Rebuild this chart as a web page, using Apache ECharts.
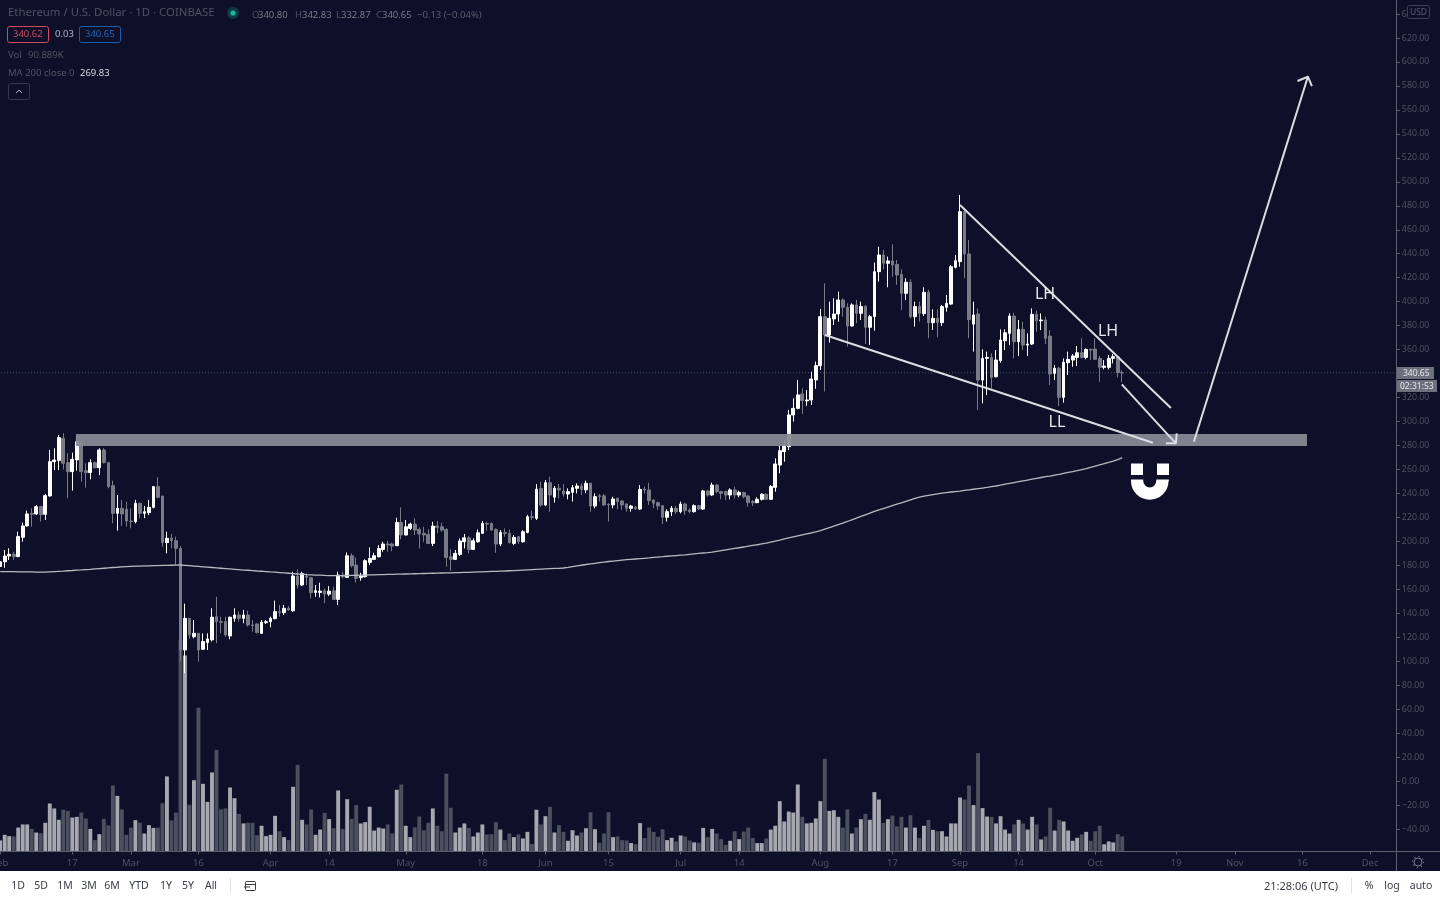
<!DOCTYPE html>
<html>
<head>
<meta charset="utf-8">
<style>html,body{margin:0;padding:0;background:#fff}#c{width:1440px;height:900px}</style>
<script src="https://cdn.jsdelivr.net/npm/echarts@6/dist/echarts.min.js"></script>
</head>
<body>
<div id="c"></div>
<script>
const opens = [179,183,187.8,189.2,187.3,203.4,212.9,223.4,222.9,229,
222.6,237.9,266.5,267.4,286,265.7,258.2,268,283.2,259,
257.4,265.7,261.5,276.3,265.7,246.5,223.4,227.6,226.8,217,
216.5,231.8,223.4,224,228.4,245.7,237.9,199,202.6,200.6,
194.2,109.4,135.8,120.5,123.3,110,115.5,117.8,137.2,133,
133,121.1,135.8,138.6,135.8,138.6,130.3,131.1,123.3,132.2,
133,135.5,141.4,140.5,144.1,142.1,171.1,163.6,171.1,169.7,
157.4,157.4,158.8,156,158.8,151.6,171.9,170,188,180.2,
169.7,170.5,182.5,185,187.2,193.3,197.8,197.8,196.4,215.8,
205.3,210.8,214.4,210,206.7,205.8,198.3,212.8,212.2,210,
187.2,185,189.1,199.7,203,193.3,199.7,206.7,215,215,
210,197.8,207.5,206.7,198.3,203.9,199.7,207.5,220.6,219.2,
244.2,230.3,249,236.8,244.3,242.1,239.5,240.9,244.3,246.2,
243,248.4,229.5,238,238,230.9,230.4,235.9,233.7,231.2,
227.6,228.4,227,243.7,242.9,234.5,232.3,229.8,220.1,224.8,
227.6,224.8,231.2,226.2,224.8,229.8,227,242.1,238.7,247,
241.5,241.5,238.7,242.9,238.7,240.7,237.9,233.2,232.3,235.1,
239.3,235.1,245.1,263.7,274.9,279,305.5,311,323,317.2,
318,334.7,346.6,387.5,372.2,385.6,389.7,401.4,395.3,379.7,
397.3,390.3,395.9,378.6,387.5,425,439,432,434,431,
422.8,407,416.2,387.5,395.9,390,407.8,382.5,386.1,382.5,
395.3,398,428.7,433.4,475.1,439.8,381.3,389.7,334.6,352.7,
353.5,337.4,350.8,367.4,373.6,388,366.6,376.9,363.8,364.7,
389.4,384.1,384.7,371.3,340.2,344.4,320.2,349.1,351.3,353.5,
357.4,353.5,360.2,360.5,352.7,345.2,345.2,352.7,354,340.80];
const closes = [183,187.8,189.2,187.3,204,212.9,222.9,222.6,229,222.3,
238.2,266.5,267.9,286.6,265.1,258.2,268.5,283.2,258.2,257.4,
265.7,261.5,276.3,265.7,245.7,223.4,227.6,222.9,217,216.5,
231.8,223.4,224.8,228.4,245.7,236.8,199,202.6,200.6,194.2,
109.4,135.8,122,123.3,109.4,116.4,118.6,136.7,133,132.5,
121.9,136.7,138.6,135.8,138.6,130.3,129.7,123.9,132.5,133,
135.8,141.4,140.6,144.1,142.7,171.1,163.6,173.3,170,157.2,
158.8,158.5,156,158.5,151.6,171.9,170.5,188,179.7,169.1,
171.1,183.9,185.8,188,194.1,197.8,196.9,196.1,215.8,205.3,
212.2,214.4,209.4,206.1,205.3,198.3,212.8,211.7,209.4,186.6,
185,190,200.3,203,193.3,200.5,207.2,215,214.4,209.4,
197.8,207.5,206.7,198.9,203.3,199.7,208,220.6,220,243.6,
230.3,249,238.7,244.3,242.9,239.5,241.5,244.8,246.2,243.4,
248.4,229.5,237.3,237.3,230.4,230.4,235.4,233.2,230.4,227.6,
229.5,227.3,243.4,242.9,234,231.8,229.5,220.1,224.8,227.6,
224.8,231.2,225.6,224.8,229.8,227,242.1,238.7,247,241.5,
240.1,238.7,242.9,238.7,240.9,237.3,232.3,232.3,235.1,239.3,
235.1,245.7,264.6,275.7,279.9,305.5,311,322.2,317.4,318,
335.5,346.6,387.5,372.2,386.1,389.7,401.4,395.3,379.7,397.3,
390.3,395.9,378.6,387.5,425,439,432,434,430.6,422.3,
407,416.2,387.5,395.9,390.3,407.8,382.5,386.1,382.5,395.9,
398.6,429.2,434.2,475.1,439.8,385,388.9,334.6,352.7,353.5,
336.8,351.3,368,374.1,388,366.6,376.9,363.8,364.7,389.4,
384.1,384.7,369.4,339.6,344.4,320.2,349.4,351.9,354.7,357.4,
353.5,360.2,359.7,351.9,345.2,346.3,352.7,354.1,340.8,340.65];
const highs = [185,192.8,194.2,191.4,208.1,215.6,225.7,227.6,230.4,229.8,
239.6,276.3,277.7,288.8,290.2,273.5,274,287.4,284.6,265.1,
268.5,266.5,277.7,277.7,266.5,250.7,238.7,234.6,233.2,227.6,
234.6,232.3,229.6,234.6,246.2,253.5,237.9,208.1,206.2,204,
196,148,136,134.4,123.3,123.3,123.3,144.2,153.9,137.2,
137.2,137.2,144.2,141.4,142.8,142.2,134.4,131.7,134.4,134.4,
137.2,150.6,147,146.9,146,174.7,176.6,174.7,173.3,170.5,
163.6,165.5,160.8,162.7,162.2,174.7,174.7,190.8,190,186.6,
173.8,185,195,190.5,196.9,199.7,200.5,198.9,219.7,228.4,
217.8,215.6,219.2,211.7,212.2,210,216.4,217,215.6,210.8,
193.3,192.8,202.5,206.1,204.4,202.5,210,217,216.4,215.8,
210.8,209.4,210.8,210,205.3,204.4,209.4,222,225.6,247.8,
249.8,251.2,254,246.2,247.9,247.9,244.3,247,248.4,248.4,
250.7,249,240.1,239.5,239.5,231.8,237.3,236.8,234.5,231.8,
230.4,229.5,247,245.7,249,235.1,233.2,230.4,226.8,229.5,
229.5,233.2,232.3,227.6,230.9,230.4,242.9,242.9,249,247.9,
242.3,242.3,244.3,245.7,242.3,241.5,238.7,234.5,236.8,240.1,
240.1,247,269.3,280.4,284.6,309.7,319.4,334.7,327.7,326.3,
341.6,350,393.9,415.3,400,402.8,408.4,402.8,398.6,398.6,
401.4,400,397.3,388.9,432.6,445.9,443.1,437.6,447.9,434.8,
427,419.5,418.7,400,400,412,409.8,393.6,393.6,397.3,
405.6,430.6,439,489,477.9,451.5,400,394.4,360.2,358.3,
356.9,359.7,376.9,376.9,390.2,390.8,384.7,383.3,373.6,394.4,
392.5,390.2,387.5,376.3,347.1,345.7,352.7,358.3,356.3,363,
369.4,361,361,369.4,354.7,351.3,355.5,356.3,354.7,342.83];
const lows = [177.5,178,184.5,184.5,186.7,199.8,212.3,212.3,222,216.5,
217.9,237.3,259.6,259.6,260.1,235.9,242.3,259,249.9,244.8,
251.8,261,255.4,265.1,244.3,215.1,209,212.9,212.3,210.9,
215.1,219.3,219.3,222,227.6,235.9,195.6,190,194.2,180.3,
100,90,119,119.1,99.7,109.4,109.4,116.4,115,123.3,
120.5,118.3,133,133,131.7,128.9,124.7,123.3,122.8,131.1,
128.3,135,137.2,138.5,142.1,141.3,160.8,162.7,163.6,152.4,
153.8,153.3,148.3,154.4,151,146.9,169.1,169.4,178.3,165.5,
167.2,170,180.2,184.4,186.6,191.4,191.4,191.9,196.1,201.7,
205,209.4,205.3,194.1,199.7,197.8,196.1,206.7,208,178.9,
175.5,184.4,187.8,194.1,190,192.8,198.9,206.1,208.9,208.9,
190.5,196.1,203.9,198.3,196.9,197.8,198.9,206.7,217.8,217.8,
228.9,229.5,224.8,232.3,235.9,237.3,235.1,233.2,240.1,238.7,
240.1,224.8,227.6,233.2,229.5,216.5,227.6,226.8,226.2,224.8,
224.8,226.2,226.2,240.1,230.4,227.6,226.2,214.5,216.5,221.2,
222.9,223.4,222,223.4,224,226.2,226.2,237.3,237.9,240.1,
235.1,234.5,235.1,235.9,236.8,235.9,229,229.5,231.8,234,
234.5,234.5,241.5,256.8,266.5,276.3,299.9,310.2,306.3,313,
313.8,327.2,343,325,365.8,380.6,383.3,387.5,362.5,379.2,
382,384.7,364.7,363.9,375.8,416.7,427,412,420.9,414,
393,401.4,386.1,379.2,383.3,388,369.4,376.4,370.3,379.7,
391.7,397.3,427.8,429.2,419.5,369.4,358.3,309.6,315.2,322.1,
327.7,336.8,349.1,359.7,363.8,352.7,354.7,359.7,354.7,363.8,
374.9,376.3,364.7,330.5,334.6,312.9,315.7,338.8,345.7,346.3,
352.7,351.9,351.3,351.3,333.2,343.5,343.5,348.5,336.8,332.87];
// volume, thousands of ETH
const volumes = [67,101,93,91,145,164,164,137,115,111,
174,291,261,192,253,246,206,210,236,200,
137,69,105,198,158,400,337,255,101,145,
190,174,109,160,143,145,293,455,188,236,
1280,1188,283,432,871,410,301,479,616,255,
261,388,323,228,170,174,174,99,156,93,
101,216,123,87,69,392,525,192,164,255,
101,133,234,196,141,370,137,317,198,281,
170,178,271,127,145,139,164,109,374,406,
156,87,147,212,129,174,261,156,123,471,
265,115,145,170,143,91,115,164,103,105,
178,133,69,109,87,103,79,119,46,253,
164,214,271,115,160,119,65,129,97,115,
141,238,135,53,109,238,87,91,69,67,
51,44,172,81,145,119,89,135,69,83,
61,97,91,67,55,53,143,87,137,109,
75,40,65,123,75,121,145,83,51,51,
79,133,156,305,182,242,236,406,210,170,
174,200,305,562,246,250,210,145,255,109,
145,196,228,192,360,315,174,196,218,152,
210,145,220,145,83,156,192,131,123,123,
91,170,170,327,315,400,281,596,263,212,
210,170,214,133,109,164,192,170,133,210,
164,73,91,265,127,192,182,127,65,83,
103,119,65,123,156,44,61,55,105,91];
const ma200 = [174.8,174.8,174.7,174.7,174.6,174.6,174.5,174.5,174.4,174.4,
174.4,174.6,174.8,175.0,175.2,175.5,175.7,176.0,176.2,176.5,
176.7,177.0,177.3,177.6,177.9,178.2,178.4,178.7,178.9,179.1,
179.3,179.4,179.5,179.6,179.7,179.8,179.9,180.0,180.1,180.2,
180.3,180.0,179.7,179.4,179.1,178.8,178.5,178.2,177.9,177.6,
177.3,177.0,176.7,176.4,176.1,175.9,175.6,175.3,175.1,174.8,
174.5,174.3,174.0,173.7,173.4,173.1,172.8,172.6,172.3,172.1,
171.9,171.8,171.6,171.5,171.4,171.4,171.4,171.5,171.6,171.7,
171.8,171.9,172.0,172.1,172.2,172.3,172.4,172.5,172.6,172.7,
172.8,172.9,173.0,173.1,173.2,173.3,173.4,173.5,173.6,173.7,
173.8,173.9,174.0,174.1,174.2,174.4,174.5,174.6,174.8,174.9,
175.0,175.2,175.3,175.5,175.6,175.8,176.0,176.2,176.4,176.6,
176.8,177.0,177.2,177.4,177.5,177.8,178.3,178.9,179.5,180.1,
180.7,181.2,181.7,182.2,182.7,183.2,183.6,184.0,184.4,184.7,
185.0,185.3,185.6,185.9,186.2,186.6,186.9,187.2,187.6,187.9,
188.2,188.5,188.8,189.2,189.6,190.0,190.3,190.6,191.1,191.7,
192.3,192.9,193.5,194.1,194.7,195.3,196.0,196.6,197.2,197.9,
198.6,199.4,200.2,201.0,202.0,203.0,203.8,204.6,205.4,206.2,
207.0,208.0,209.0,210.2,211.4,212.7,214.0,215.3,216.6,218.0,
219.4,220.8,222.2,223.6,225.0,226.2,227.4,228.6,229.8,231.0,
232.2,233.4,234.6,235.8,237.0,237.7,238.4,239.0,239.6,240.2,
240.7,241.2,241.6,242.0,242.5,243.0,243.5,244.0,244.5,245.0,
245.6,246.2,246.9,247.7,248.4,249.1,249.8,250.5,251.2,251.9,
252.6,253.3,254.0,254.5,255.3,256.0,256.8,257.5,258.2,259.0,
259.9,260.8,261.8,262.8,263.8,264.8,265.9,267.0,268.3,269.83];
const tickDays = [0,16,29,44,60,73,90,107,121,135,151,164,182,198,213,226,243,261,274,289,304];
const tickTexts = ['Feb','17','Mar','16','Apr','14','May','18','Jun','15','Jul','14','Aug','17','Sep','14','Oct','19','Nov','16','Dec'];
const dayCount = 310;
const lastPrice = 340.65;
// drawings: [day, price] on the same scales as the candles
const wedgeUpper = [[213.5,480.6],[260.3,311.3]];
const wedgeLower = [[183.5,372.2],[256.3,282.3]];
const downArrow = [[249.4,331],[261.4,281.8]];
const downArrowHead = [[259.2,281.8],[261.4,281.8],[261.6,290.1]];
const upArrow = [[265.4,283.1],[290.7,587.7]];
const upArrowHead = [[288.4,584.1],[290.7,587.7],[291.6,579.9]];
const zone = {fromDay:17.3,toDay:290.5,low:279.6,high:289.6};

const UI = '"Noto Sans", sans-serif';
const gridBox = {left:-2.05,width:1396.9};
const tickLabel = {};
tickDays.forEach((d,k)=>{tickLabel[d]=tickTexts[k];});
const categories = Array.from({length:dayCount},(_,i)=>String(i));
const candles = opens.map((o,i)=>[o,closes[i],lows[i],highs[i]]);
const UP='#ffffff',DOWN='#787b86';
const volumeBars = volumes.map((v,i)=>({value:v,itemStyle:{color:closes[i]>=opens[i]?'#a7a8af':'#4c4f5e'}}));

function T(text,x,y,fill,size,extra){
  return Object.assign({type:'text',x:x,y:y,z:100,silent:true,style:Object.assign({text:text,fill:fill,font:(size||11)+'px '+UI,textVerticalAlign:'middle'},extra||{})});
}
const DIM='#4f5262',UIDARK='#3a3d47';
const graphics=[
  {type:'line',z:50,silent:true,shape:{x1:0,y1:851.5,x2:1440,y2:851.5},style:{stroke:'#5c5e6b',lineWidth:1}},
  {type:'line',z:50,silent:true,shape:{x1:1396.5,y1:0,x2:1396.5,y2:871},style:{stroke:'#5c5e6b',lineWidth:1}},
  {type:'rect',z:60,silent:true,shape:{x:0,y:871,width:1440,height:29},style:{fill:'#ffffff'}},
  T('Ethereum / U.S. Dollar · 1D · COINBASE',8,13,DIM,11.4),
  {type:'circle',z:90,silent:true,shape:{cx:233,cy:13,r:6},style:{fill:'#0f3a44'}},
  {type:'circle',z:91,silent:true,shape:{cx:233,cy:13,r:2.6},style:{fill:'#16b79a'}},
  T('O',252,15,DIM,9.5),T('340.80',258,15,'#787b86',9.5),
  T('H',295,15,DIM,9.5),T('342.83',302,15,'#787b86',9.5),
  T('L',336,15,DIM,9.5),T('332.87',341,15,'#787b86',9.5),
  T('C',376,15,DIM,9.5),T('340.65',382,15,'#787b86',9.5),
  T('−0.13 (−0.04%)',417,15,'#5b5e6c',9.5),
  {type:'rect',z:90,silent:true,shape:{x:7.5,y:26.5,width:41,height:16,r:2},style:{fill:'none',stroke:'#d2485f',lineWidth:1}},
  T('340.62',13,34,'#d2485f',9.5),
  T('0.03',55,34.5,'#b2b5be',9.5),
  {type:'rect',z:90,silent:true,shape:{x:79.5,y:26.5,width:41,height:16,r:2},style:{fill:'none',stroke:'#1c5fa8',lineWidth:1}},
  T('340.65',85,34,'#1f68b8',9.5),
  T('Vol',8,55,DIM,9.5),T('90.889K',28,55,'#50535f',9.5),
  T('MA 200 close 0',8,73,DIM,9.5),T('269.83',80,73,'#d9dae0',9.5),
  {type:'rect',z:90,silent:true,shape:{x:8.5,y:83.5,width:21,height:16,r:2},style:{fill:'none',stroke:'#363948',lineWidth:1}},
  {type:'polyline',z:91,silent:true,shape:{points:[[16,93],[19,90],[22,93]]},style:{fill:'none',stroke:'#b2b5be',lineWidth:1}},
  {type:'rect',z:90,silent:true,shape:{x:1407.5,y:5.5,width:22,height:13,r:2},style:{fill:'#0d1028',stroke:'#3e4150',lineWidth:1}},
  T('USD',1418.5,12.5,'#5b5e6c',8.5,{textAlign:'center'}),
  {type:'rect',z:90,silent:true,shape:{x:1397,y:367,width:37,height:12},style:{fill:'#6d6f7c'}},
  T('340.65',1403,373.5,'#e8e8ec',8.5),
  {type:'rect',z:90,silent:true,shape:{x:1397,y:380,width:40,height:12},style:{fill:'#6d6f7c'}},
  T('02:31:53',1400,386.5,'#e8e8ec',8.5),
  T('LH',1045,294,'#e6e6ea',16,{textAlign:'center'}),
  T('LH',1108,331.5,'#e6e6ea',16,{textAlign:'center'}),
  T('LL',1057,422,'#e6e6ea',16,{textAlign:'center'}),
  {type:'rect',z:80,silent:true,shape:{x:1131,y:463.5,width:12,height:11.5},style:{fill:'#fff'}},
  {type:'rect',z:80,silent:true,shape:{x:1157,y:463.5,width:12,height:11.5},style:{fill:'#fff'}},
  {type:'rect',z:80,silent:true,shape:{x:1131,y:479.5,width:12.2,height:2},style:{fill:'#fff'}},
  {type:'rect',z:80,silent:true,shape:{x:1156.3,y:479.5,width:12.5,height:2},style:{fill:'#fff'}},
  {type:'sector',z:80,silent:true,shape:{cx:1149.75,cy:481,r0:6.5,r:18.75,startAngle:0,endAngle:Math.PI,clockwise:true},style:{fill:'#fff'}},
  {type:'circle',z:90,silent:true,shape:{cx:1418,cy:862,r:4},style:{fill:'none',stroke:'#7d808c',lineWidth:1}},
  {type:'circle',z:90,silent:true,shape:{cx:1418,cy:862,r:5.5},style:{fill:'none',stroke:'#7d808c',lineWidth:1.2,lineDash:[1,3.3]}},
];
const toolbar=[['1D',18],['5D',41],['1M',65],['3M',89],['6M',112],['YTD',139],['1Y',166],['5Y',188],['All',211]];
toolbar.forEach(b=>graphics.push(T(b[0],b[1],886.5,UIDARK,10.5,{textAlign:'center'})));
graphics.push({type:'line',z:90,silent:true,shape:{x1:230.5,y1:878,x2:230.5,y2:893},style:{stroke:'#e0e3eb'}});
graphics.push({type:'rect',z:90,silent:true,shape:{x:245.5,y:881.5,width:10,height:9,r:1},style:{fill:'none',stroke:UIDARK,lineWidth:1}});
graphics.push({type:'line',z:91,silent:true,shape:{x1:244,y1:887,x2:250,y2:887},style:{stroke:UIDARK,lineWidth:1}});
graphics.push({type:'line',z:91,silent:true,shape:{x1:245.5,y1:884.5,x2:255.5,y2:884.5},style:{stroke:UIDARK,lineWidth:1}});
graphics.push(T('21:28:06 (UTC)',1338,886.5,UIDARK,11,{textAlign:'right'}));
graphics.push({type:'line',z:90,silent:true,shape:{x1:1351.5,y1:878,x2:1351.5,y2:893},style:{stroke:'#e0e3eb'}});
graphics.push(T('%',1369,886.5,UIDARK,10.5,{textAlign:'center'}));
graphics.push(T('log',1392,886.5,UIDARK,10.5,{textAlign:'center'}));
graphics.push(T('auto',1421,886.5,UIDARK,10.5,{textAlign:'center'}));

const drawLine=(name,data,color,width,extra)=>Object.assign({name:name,type:'line',xAxisIndex:2,yAxisIndex:0,data:data,symbol:'none',silent:true,z:6,lineStyle:{color:color,width:width},itemStyle:{color:color}},extra||{});
const DRAW='#dcdce2';

const option={
  animation:false,
  backgroundColor:'#0d1028',
  tooltip:{show:false},
  legend:{show:false},
  graphic:graphics,
  grid:[
    {left:gridBox.left,width:gridBox.width,top:14.03,height:815,outerBoundsMode:'none'},
    {left:gridBox.left,width:gridBox.width,top:0,height:851.5,outerBoundsMode:'none'}
  ],
  xAxis:[
    {type:'category',gridIndex:0,data:categories,show:false,boundaryGap:true},
    {type:'category',gridIndex:1,data:categories,boundaryGap:true,
      axisLine:{show:false},
      axisTick:{show:true,alignWithLabel:true,length:3,lineStyle:{color:'#5c5e6b'},interval:i=>tickLabel[i]!==undefined},
      axisLabel:{interval:i=>tickLabel[i]!==undefined,formatter:(v,i)=>tickLabel[i]||'',color:'#4f5262',fontSize:9.5,fontFamily:UI,margin:7,hideOverlap:false},
      splitLine:{show:false}},
    {type:'value',gridIndex:0,min:0,max:dayCount,show:false,splitLine:{show:false},axisLine:{onZero:false}}
  ],
  yAxis:[
    {type:'value',gridIndex:0,position:'right',offset:2,min:-40,max:640,interval:20,scale:false,
      axisLine:{show:false,onZero:false},axisTick:{show:true,length:3,lineStyle:{color:'#5c5e6b'}},
      axisLabel:{formatter:v=>v.toFixed(2).replace('-','−'),color:'#4f5262',fontSize:8.8,fontFamily:UI,margin:5},
      splitLine:{show:false}},
    {type:'value',gridIndex:1,min:0,max:5160,show:false,splitLine:{show:false},axisLine:{onZero:false}}
  ],
  series:[
    {name:'Vol',type:'bar',xAxisIndex:1,yAxisIndex:1,data:volumeBars,barWidth:3.9,z:1,silent:true},
    {name:'ETHUSD',type:'candlestick',xAxisIndex:0,yAxisIndex:0,data:candles,barWidth:3.2,z:3,silent:true,
      itemStyle:{color:UP,color0:DOWN,borderColor:UP,borderColor0:DOWN,borderWidth:1}},
    {name:'MA 200',type:'line',xAxisIndex:0,yAxisIndex:0,data:ma200,symbol:'none',silent:true,z:4,lineStyle:{color:'#b8b9c0',width:1.3}},
    {name:'Support zone',type:'custom',xAxisIndex:2,yAxisIndex:0,z:5,silent:true,clip:false,
      data:[[zone.fromDay,zone.low,zone.toDay,zone.high]],
      renderItem:(p,api)=>{
        const a=api.coord([api.value(0),api.value(3)]),b=api.coord([api.value(2),api.value(1)]);
        return {type:'rect',shape:{x:a[0],y:a[1],width:b[0]-a[0],height:b[1]-a[1]},style:{fill:'rgba(137,139,149,0.93)'}};
      }},
    drawLine('Last price',[[0,lastPrice],[dayCount,lastPrice]],'#46585a',1,{lineStyle:{color:'#4a5c5c',width:1,type:[1,2]},z:2}),
    drawLine('Wedge upper',wedgeUpper,DRAW,2),
    drawLine('Wedge lower',wedgeLower,DRAW,2),
    drawLine('Down arrow',downArrow,DRAW,2),
    drawLine('Down arrow head',downArrowHead,DRAW,2),
    drawLine('Up arrow',upArrow,DRAW,2),
    drawLine('Up arrow head',upArrowHead,DRAW,2)
  ]
};
const chart=echarts.init(document.getElementById('c'),null,{renderer:'canvas',width:1440,height:900});
chart.setOption(option);
</script>
</body>
</html>
